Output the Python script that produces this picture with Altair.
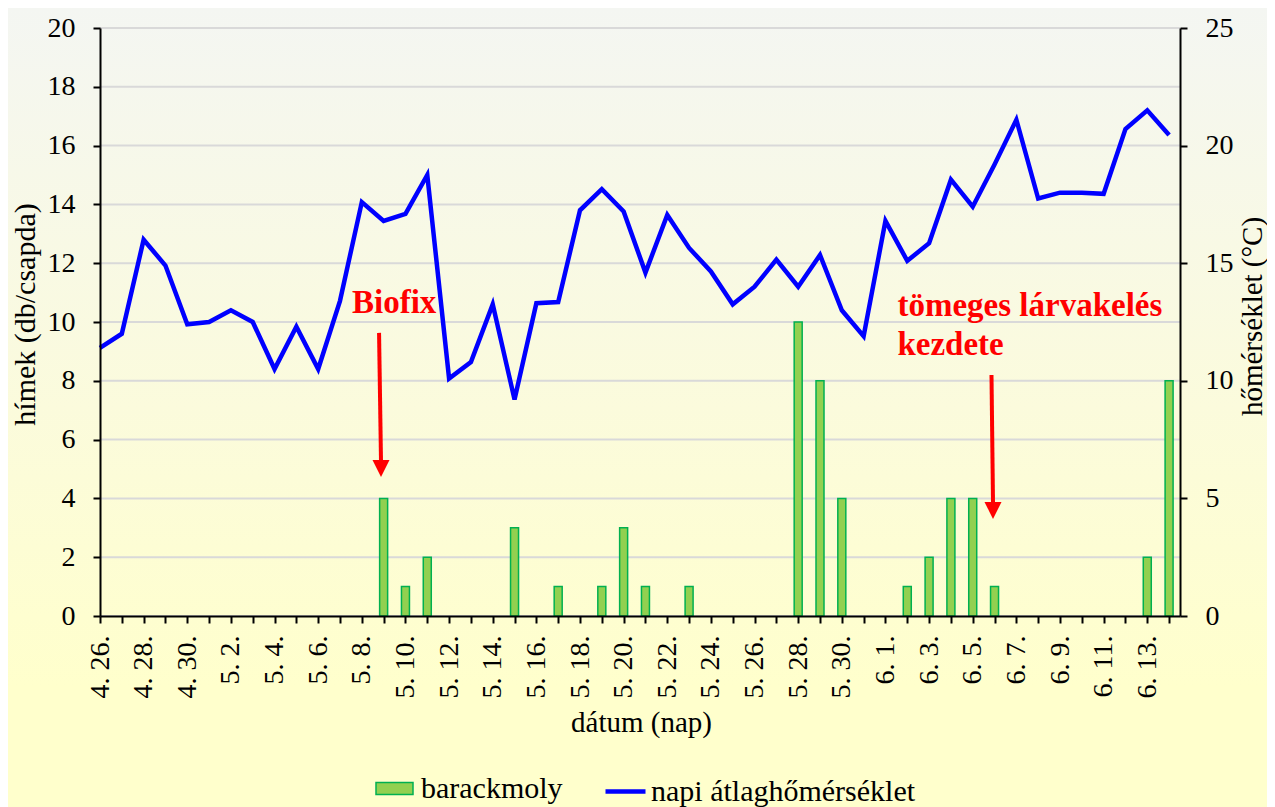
import json
import altair as alt
import pandas as pd

# ---------------- data ----------------
dates = ["4. 26.", "4. 27.", "4. 28.", "4. 29.", "4. 30.",
         "5. 1.", "5. 2.", "5. 3.", "5. 4.", "5. 5.", "5. 6.", "5. 7.", "5. 8.", "5. 9.", "5. 10.",
         "5. 11.", "5. 12.", "5. 13.", "5. 14.", "5. 15.", "5. 16.", "5. 17.", "5. 18.", "5. 19.",
         "5. 20.", "5. 21.", "5. 22.", "5. 23.", "5. 24.", "5. 25.", "5. 26.", "5. 27.", "5. 28.",
         "5. 29.", "5. 30.", "5. 31.",
         "6. 1.", "6. 2.", "6. 3.", "6. 4.", "6. 5.", "6. 6.", "6. 7.", "6. 8.", "6. 9.", "6. 10.",
         "6. 11.", "6. 12.", "6. 13.", "6. 14."]

moths = [0, 0, 0, 0, 0, 0, 0, 0, 0, 0, 0, 0, 0, 4, 1,
         2, 0, 0, 0, 3, 0, 1, 0, 1, 3, 1, 0, 1, 0, 0, 0, 0, 10,
         8, 4, 0,
         0, 1, 2, 4, 4, 1, 0, 0, 0, 0, 0, 0, 2, 8]

temps = [11.4, 12.0, 16.0, 14.9, 12.4,
         12.5, 13.0, 12.5, 10.5, 12.3, 10.5, 13.4, 17.6, 16.8, 17.1,
         18.75, 10.1, 10.8, 13.25, 9.2, 13.3, 13.35, 17.25, 18.15,
         17.2, 14.6, 17.05, 15.65, 14.65, 13.25, 14.0, 15.15, 14.0,
         15.35, 13.0, 11.9,
         16.8, 15.1, 15.85, 18.55, 17.4, 19.2, 21.1, 17.75, 18.0, 18.0,
         17.95, 20.7, 21.5, 20.45]

bar_series = "barackmoly"
line_series = "napi átlaghőmérséklet"
left_ticks = list(range(0, 21, 2))
right_ticks = [0, 5, 10, 15, 20, 25]

# annotations (x in day index, y in left-axis units)
notes_text = ["Biofix", "tömeges lárvakelés", "kezdete"]
notes_x = [11.55, 36.55, 36.55]
notes_y = [10.3, 10.2, 8.88]
arrow_x = [12.79, 40.86]
arrow_x2 = [12.88, 40.93]
arrow_y = [9.63, 8.2]
arrow_y2 = [5.24, 3.84]
head_x = [12.88, 40.93]
head_y = [5.02, 3.59]

# --------------- layout ---------------
W, H = 1080, 588
PAD = {"left": 92, "top": 20, "right": 87, "bottom": 191}
FONT = "Liberation Serif"

n = len(dates)
df = pd.DataFrame({"i": list(range(n)), "date": dates, "moth": moths,
                   "temp": temps, "s": bar_series, "t": line_series})
grid_df = pd.DataFrame({"g": left_ticks})
notes_df = pd.DataFrame({"x": notes_x, "y": notes_y, "txt": notes_text})
arrows_df = pd.DataFrame({"x": arrow_x, "x2": arrow_x2, "y": arrow_y, "y2": arrow_y2})
heads_df = pd.DataFrame({"x": head_x, "y": head_y})


def xsc():
    return alt.Scale(domain=[0, n - 0.5], nice=False, zero=False, padding=0)


def ysc():
    return alt.Scale(domain=[0, 20], nice=False, padding=0)


tscale = alt.Scale(domain=[0, 25], nice=False, padding=0)

label_expr = "datum.value % 2 == 0 ? " + json.dumps(dates, ensure_ascii=False) + "[datum.value] : ''"

x_axis = alt.Axis(orient="bottom", values=list(range(n)), labelExpr=label_expr, labelAngle=270,
                  labelOverlap=False, labelFlush=False, labelBound=False,
                  labelFont=FONT, labelFontSize=28, labelColor="black", labelPadding=12,
                  tickColor="black", tickSize=7, tickWidth=2, domainColor="black", domainWidth=2,
                  grid=False, title="dátum (nap)", titleFont=FONT, titleFontSize=29,
                  titleFontWeight="normal", titleColor="black", titleX=541, titleY=106,
                  titleAlign="center", titleBaseline="middle", zindex=2)

y_axis = alt.Axis(orient="left", values=left_ticks, labelFont=FONT, labelFontSize=28,
                  labelColor="black", labelPadding=18, tickColor="black", tickSize=7, tickWidth=2,
                  domainColor="black", domainWidth=2, grid=False,
                  title="hímek (db/csapda)", titleFont=FONT, titleFontSize=30,
                  titleFontWeight="normal", titleColor="black", titleAngle=270,
                  titleX=-75, titleY=286, titleAlign="center", titleBaseline="middle", zindex=2)

t_axis = alt.Axis(orient="right", values=right_ticks, labelFont=FONT, labelFontSize=28,
                  labelColor="black", labelPadding=18, tickColor="black", tickSize=7, tickWidth=2,
                  domainColor="black", domainWidth=2, grid=False,
                  title="hőmérséklet (°C)", titleFont=FONT, titleFontSize=29,
                  titleFontWeight="normal", titleColor="black", titleAngle=270,
                  titleX=72, titleY=288, titleAlign="center", titleBaseline="middle", zindex=2)

bg = alt.Chart(alt.Data(values=[{}])).mark_rect(
    color=alt.LinearGradient(gradient="linear",
                             stops=[alt.GradientStop(color="#F4F6F2", offset=0),
                                    alt.GradientStop(color="#FBFBDC", offset=0.5),
                                    alt.GradientStop(color="#FFFFCC", offset=0.85),
                                    alt.GradientStop(color="#FFFFCC", offset=1)],
                             x1=0, x2=0, y1=0, y2=1)
).encode(x=alt.value(-PAD["left"]), x2=alt.value(W + PAD["right"]),
         y=alt.value(-PAD["top"]), y2=alt.value(H + PAD["bottom"]))

grid = alt.Chart(grid_df).mark_rule(color="#D9D9D9", strokeWidth=2).encode(
    y=alt.Y("g:Q", scale=ysc(), axis=None),
    x=alt.value(0), x2=alt.value(W))

bars = alt.Chart(df).transform_filter("datum.moth > 0").mark_bar(
    size=8, stroke="#00B050", strokeWidth=1.5).encode(
    x=alt.X("i:Q", scale=xsc(), axis=x_axis),
    y=alt.Y("moth:Q", scale=ysc(), axis=y_axis),
    fill=alt.Fill("s:N", scale=alt.Scale(domain=[bar_series], range=["#92D050"]),
                  legend=alt.Legend(orient="none", legendX=275, legendY=741, title=None,
                                    symbolType="M-1,-0.33H1V0.33H-1Z", symbolSize=1369,
                                    symbolStrokeColor="#00B050", symbolStrokeWidth=1.5,
                                    symbolFillColor="#92D050", labelLimit=0,
                                    labelFont=FONT, labelFontSize=30, labelColor="black",
                                    labelOffset=7, padding=0)))

arrows = alt.Chart(arrows_df).mark_rule(color="#FF0000", strokeWidth=4).encode(
    x=alt.X("x:Q", scale=xsc(), axis=None), x2="x2:Q",
    y=alt.Y("y:Q", scale=ysc(), axis=None), y2="y2:Q")

heads = alt.Chart(heads_df).mark_point(shape="M-1,-1L1,-1L0,1Z", size=289, filled=True,
                                       color="#FF0000", opacity=1).encode(
    x=alt.X("x:Q", scale=xsc(), axis=None),
    y=alt.Y("y:Q", scale=ysc(), axis=None))

notes = alt.Chart(notes_df).mark_text(font=FONT, fontSize=33, fontWeight="bold", color="#FF0000",
                                      align="left", baseline="alphabetic").encode(
    x=alt.X("x:Q", scale=xsc(), axis=None),
    y=alt.Y("y:Q", scale=ysc(), axis=None),
    text="txt:N")

line = alt.Chart(df).mark_line(strokeWidth=4.5, strokeJoin="miter").encode(
    x=alt.X("i:Q", scale=xsc(), axis=None),
    y=alt.Y("temp:Q", scale=tscale, axis=t_axis),
    stroke=alt.Stroke("t:N", scale=alt.Scale(domain=[line_series], range=["#0000FF"]),
                      legend=alt.Legend(orient="none", legendX=503, legendY=741, title=None,
                                        symbolType="stroke", symbolSize=1600,
                                        symbolStrokeWidth=4.5, labelLimit=0,
                                        labelFont=FONT, labelFontSize=30, labelColor="black",
                                        labelOffset=3, padding=0)))

chart = alt.layer(bg, grid, bars, arrows, heads, notes, line).resolve_scale(
    x="independent", y="independent").properties(
    width=W, height=H, autosize=alt.AutoSizeParams(type="none"), padding=PAD,
    background="#FFFFCC"
).configure_view(stroke=None)

chart.save("out.html", embed_options={"renderer": "svg", "actions": False})
